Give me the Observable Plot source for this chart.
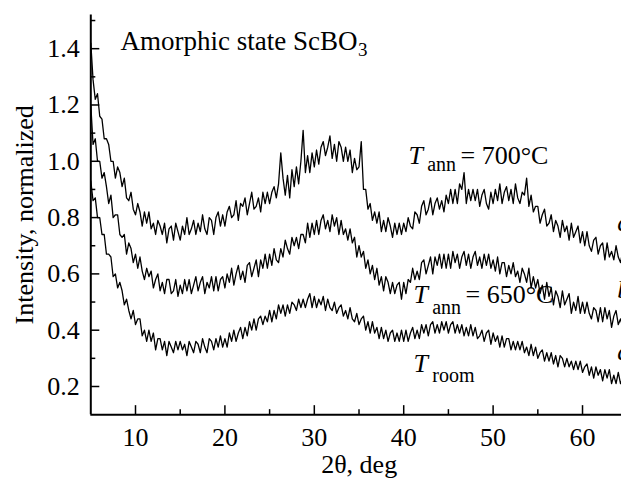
<!DOCTYPE html>
<html><head><meta charset="utf-8">
<script src="https://cdn.jsdelivr.net/npm/d3@7"></script>
<script src="https://cdn.jsdelivr.net/npm/@observablehq/plot@0.6"></script>
<style>
html,body{margin:0;padding:0;overflow:hidden;background:#fff;}
#chart svg, #chart svg text{font-family:"Liberation Serif","Times New Roman",serif !important;}
</style>
</head><body><div id="chart"></div>
<script>
// 2θ sampling grid (deg)
const twoThetaStart = 5;
const twoThetaStep = 0.25;

// Curve c: T_ann = 700 °C
const intensity700 = [
1.42,1.29,1.22,1.24,1.16,1.15,1.08,1.08,1.06,1.00,1.00,0.94,0.98,0.96,0.91,0.94,0.87,0.86,0.89,0.83,
0.81,0.85,0.82,0.77,0.82,0.78,0.82,0.76,0.78,0.74,0.79,0.77,0.74,0.78,0.71,0.76,0.77,0.72,0.78,0.75,
0.72,0.77,0.74,0.80,0.74,0.76,0.79,0.74,0.78,0.75,0.81,0.76,0.74,0.80,0.79,0.74,0.80,0.82,0.77,0.81,
0.77,0.82,0.84,0.80,0.81,0.86,0.79,0.85,0.84,0.87,0.81,0.85,0.89,0.83,0.84,0.87,0.82,0.89,0.85,0.89,
0.85,0.89,0.91,0.87,0.92,1.03,0.94,0.88,0.95,0.87,0.97,0.91,0.98,0.92,1.00,1.11,0.96,1.02,0.96,1.03,
0.98,1.04,0.99,1.05,1.07,1.02,1.05,1.09,1.01,1.06,1.00,1.07,1.05,1.00,1.05,1.00,1.04,0.96,1.01,0.97,
0.98,1.07,0.90,0.90,0.83,0.85,0.79,0.82,0.78,0.82,0.75,0.79,0.75,0.80,0.77,0.73,0.78,0.74,0.78,0.74,
0.78,0.75,0.80,0.77,0.76,0.82,0.81,0.78,0.84,0.86,0.81,0.83,0.87,0.81,0.85,0.87,0.83,0.86,0.82,0.88,
0.85,0.90,0.85,0.90,0.85,0.92,0.90,0.96,0.85,0.90,0.86,0.90,0.86,0.90,0.84,0.88,0.90,0.85,0.83,0.89,
0.85,0.90,0.86,0.92,0.85,0.89,0.91,0.86,0.90,0.85,0.92,0.87,0.85,0.89,0.88,0.94,0.84,0.88,0.82,0.84,
0.84,0.78,0.81,0.83,0.77,0.78,0.81,0.75,0.79,0.77,0.73,0.79,0.75,0.77,0.72,0.78,0.73,0.75,0.77,0.71,
0.75,0.70,0.75,0.70,0.68,0.72,0.73,0.67,0.70,0.71,0.65,0.71,0.66,0.68,0.65,0.70,0.66,0.64,0.68
];

// Curve b: T_ann = 650 °C
const intensity650 = [
1.20,1.06,1.08,1.00,1.00,0.94,0.96,0.91,0.85,0.88,0.80,0.81,0.81,0.74,0.73,0.74,0.67,0.71,0.69,0.64,
0.67,0.62,0.66,0.61,0.58,0.62,0.59,0.61,0.55,0.58,0.60,0.54,0.57,0.53,0.58,0.58,0.53,0.54,0.58,0.52,
0.56,0.53,0.58,0.54,0.58,0.53,0.56,0.59,0.54,0.57,0.59,0.53,0.57,0.55,0.59,0.54,0.59,0.54,0.58,0.59,
0.55,0.60,0.57,0.62,0.56,0.60,0.63,0.58,0.61,0.57,0.63,0.64,0.59,0.62,0.65,0.59,0.65,0.62,0.67,0.62,
0.67,0.63,0.69,0.65,0.64,0.69,0.66,0.72,0.69,0.67,0.73,0.70,0.73,0.69,0.74,0.74,0.71,0.78,0.73,0.78,
0.74,0.79,0.74,0.79,0.81,0.76,0.79,0.75,0.81,0.77,0.80,0.74,0.79,0.74,0.76,0.72,0.76,0.71,0.73,0.66,
0.70,0.66,0.68,0.62,0.65,0.60,0.63,0.58,0.62,0.56,0.59,0.54,0.59,0.57,0.53,0.57,0.53,0.56,0.57,0.51,
0.57,0.53,0.58,0.57,0.62,0.58,0.61,0.58,0.64,0.65,0.60,0.63,0.66,0.60,0.66,0.63,0.67,0.62,0.67,0.62,
0.67,0.62,0.68,0.64,0.67,0.62,0.66,0.68,0.63,0.67,0.62,0.66,0.68,0.63,0.66,0.62,0.67,0.63,0.67,0.62,
0.65,0.61,0.66,0.60,0.64,0.64,0.59,0.63,0.60,0.64,0.59,0.61,0.57,0.62,0.60,0.57,0.62,0.55,0.59,0.55,
0.58,0.53,0.56,0.51,0.57,0.52,0.55,0.49,0.54,0.52,0.48,0.54,0.49,0.51,0.53,0.46,0.50,0.47,0.52,0.46,
0.50,0.46,0.50,0.46,0.44,0.48,0.47,0.43,0.48,0.43,0.48,0.44,0.47,0.41,0.45,0.47,0.42,0.44,0.41
];

// Curve a: T_room
const intensityRoom = [
0.93,0.86,0.87,0.80,0.80,0.74,0.74,0.67,0.67,0.66,0.59,0.60,0.55,0.57,0.54,0.49,0.51,0.47,0.44,0.47,
0.42,0.44,0.44,0.38,0.40,0.36,0.40,0.36,0.39,0.33,0.37,0.37,0.33,0.36,0.31,0.36,0.34,0.32,0.36,0.33,
0.36,0.33,0.35,0.31,0.36,0.34,0.32,0.36,0.35,0.32,0.37,0.34,0.32,0.37,0.36,0.33,0.37,0.34,0.38,0.34,
0.37,0.34,0.39,0.36,0.40,0.36,0.39,0.41,0.37,0.41,0.38,0.43,0.40,0.44,0.40,0.44,0.45,0.42,0.45,0.43,
0.47,0.43,0.47,0.44,0.49,0.46,0.49,0.45,0.49,0.46,0.50,0.49,0.47,0.51,0.48,0.51,0.48,0.51,0.53,0.48,
0.52,0.48,0.51,0.49,0.52,0.47,0.51,0.48,0.47,0.50,0.46,0.48,0.49,0.45,0.47,0.44,0.48,0.44,0.43,0.46,
0.42,0.44,0.45,0.40,0.43,0.39,0.43,0.39,0.41,0.37,0.41,0.37,0.40,0.36,0.39,0.40,0.36,0.39,0.36,0.40,
0.36,0.40,0.36,0.39,0.41,0.37,0.40,0.37,0.42,0.39,0.42,0.38,0.42,0.43,0.39,0.42,0.39,0.43,0.40,0.43,
0.39,0.42,0.43,0.39,0.42,0.39,0.42,0.38,0.41,0.38,0.42,0.38,0.41,0.37,0.38,0.40,0.36,0.39,0.40,0.35,
0.39,0.36,0.38,0.34,0.38,0.34,0.37,0.37,0.33,0.36,0.33,0.36,0.33,0.36,0.32,0.34,0.31,0.35,0.31,0.34,
0.30,0.32,0.33,0.29,0.32,0.29,0.32,0.28,0.31,0.27,0.31,0.30,0.27,0.30,0.27,0.29,0.26,0.29,0.26,0.29,
0.25,0.27,0.28,0.24,0.27,0.23,0.27,0.24,0.26,0.22,0.26,0.23,0.26,0.21,0.24,0.21,0.25,0.21,0.23
];

const xMajorTicks = [10, 20, 30, 40, 50, 60];
const xMinorTicks = [15, 25, 35, 45, 55];
const yMajorTicks = [0.2, 0.4, 0.6, 0.8, 1.0, 1.2, 1.4];
const yMinorTicks = [0.3, 0.5, 0.7, 0.9, 1.1, 1.3, 1.5];
const xDomain = [5, 64.36];
const yDomain = [0.1, 1.52];
const curveLetters = ["c", "b", "a"];

const toRows = (vals, series) => vals.map((v, i) => ({x: twoThetaStart + i * twoThetaStep, y: v, series}));
const rows = [
  ...toRows(intensity700, "700"),
  ...toRows(intensity650, "650"),
  ...toRows(intensityRoom, "room")
];

const FF = '"Liberation Serif", "Times New Roman", serif';
const FS = 26, SUB = 19;
const fmt = d3.format(".1f");

const chart = Plot.plot({
  width: 621,
  height: 479,
  marginLeft: 90.3,
  marginRight: 0,
  marginTop: 14.4,
  marginBottom: 64.85,
  x: {domain: xDomain},
  y: {domain: yDomain},
  style: {fontFamily: FF, fontSize: FS + "px", color: "black", background: "white", overflow: "visible"},
  marks: [
    Plot.line(rows, {x: "x", y: "y", z: "series", stroke: "black", strokeWidth: 1.3, clip: true}),
    // axis lines
    Plot.ruleX([xDomain[0]], {stroke: "black", strokeWidth: 2}),
    Plot.ruleY([yDomain[0]], {stroke: "black", strokeWidth: 2}),
    // ticks (inward)
    Plot.axisX(xMajorTicks, {tickSize: -9, fill: "none", label: null, strokeWidth: 1.5}),
    Plot.axisX(xMinorTicks, {tickSize: -5, fill: "none", label: null, strokeWidth: 1.5}),
    Plot.axisY(yMajorTicks, {tickSize: -9, fill: "none", label: null, strokeWidth: 1.5}),
    Plot.axisY(yMinorTicks, {tickSize: -5, fill: "none", label: null, strokeWidth: 1.5}),
    // tick labels
    Plot.axisX(xMajorTicks, {tickSize: 0, tickPadding: 13, fontSize: FS, fontFamily: FF, label: null}),
    Plot.axisY(yMajorTicks, {tickSize: 0, tickPadding: 11, fontSize: FS, fontFamily: FF, label: null, tickFormat: fmt}),
    // axis titles
    Plot.text(["Intensity, normalized"], {text: d => d, frameAnchor: "left", rotate: -90, dx: -66, fontSize: FS, fontFamily: FF, lineAnchor: "middle", textAnchor: "middle"}),
    Plot.text(["2θ, deg"], {text: d => d, frameAnchor: "bottom", dx: 3, dy: 58, fontSize: FS, fontFamily: FF, lineAnchor: "bottom", textAnchor: "middle"}),
    // panel title
    Plot.text([{t: "Amorphic state ScBO", x: 8.32, y: 1.394}], {x: "x", y: "y", text: "t", fontSize: 27, fontFamily: FF, textAnchor: "start", lineAnchor: "bottom"}),
    Plot.text([{t: "3", x: 34.9, y: 1.374}], {x: "x", y: "y", text: "t", fontSize: SUB, fontFamily: FF, textAnchor: "start", lineAnchor: "bottom"}),
    // curve annotations
    Plot.text([{t: "T", x: 40.54, y: 0.992}, {t: "T", x: 41.1, y: 0.495}, {t: "T", x: 41.1, y: 0.25}],
      {x: "x", y: "y", text: "t", fontSize: FS, fontFamily: FF, fontStyle: "italic", textAnchor: "start", lineAnchor: "bottom"}),
    Plot.text([{t: "ann", x: 42.62, y: 0.967}, {t: "ann", x: 43.19, y: 0.459}, {t: "room", x: 43.2, y: 0.215}],
      {x: "x", y: "y", text: "t", fontSize: 20, fontFamily: FF, textAnchor: "start", lineAnchor: "bottom"}),
    Plot.text([{t: "= 700°C", x: 46.35, y: 0.992}, {t: "= 650°C", x: 46.91, y: 0.495}],
      {x: "x", y: "y", text: "t", fontSize: FS, fontFamily: FF, textAnchor: "start", lineAnchor: "bottom"}),
    // curve letters at right edge (clipped by the page edge, as in the reference)
    Plot.text(curveLetters.map((t, i) => ({t, x: 63.88, y: [0.754, 0.516, 0.293][i]})),
      {x: "x", y: "y", text: "t", fontSize: FS, fontFamily: FF, fontStyle: "italic", textAnchor: "start", lineAnchor: "bottom"})
  ]
});
document.getElementById("chart").appendChild(chart);
</script>
</body></html>
